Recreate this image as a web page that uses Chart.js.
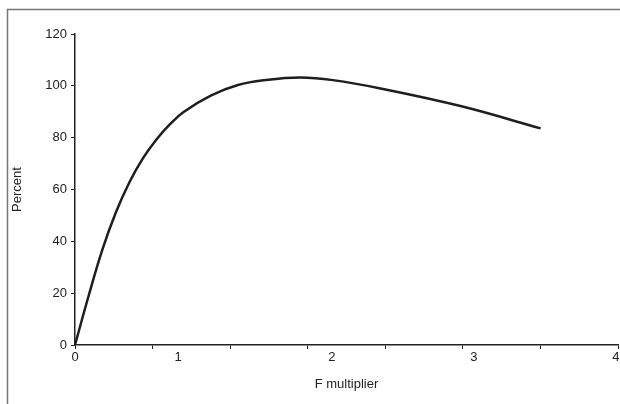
<!DOCTYPE html>
<html lang="en">

<head>
    <meta charset="UTF-8">
    <title>F multiplier curve</title>
    <script src="https://cdn.jsdelivr.net/npm/chart.js"></script>
    <style>
        html, body { margin: 0; padding: 0; background: #fff; }
        #wrap { width: 620px; height: 404px; }
    </style>
</head>

<body>
    <div id="wrap"><canvas id="lineChart"></canvas></div>
    <script>
        // curve data (x in axis units, 0..4 spread evenly over the axis)
        const fMult = [0, 0.1, 0.2, 0.3, 0.4, 0.5, 0.6, 0.7, 0.8, 1.0, 1.2, 1.4, 1.66, 1.9, 2.25, 2.84, 3.43];
        const percent = [0, 18.9, 36.5, 51.0, 62.7, 72.0, 79.3, 85.2, 89.9, 96.2, 100.3, 102.2, 103.2, 102.2, 99.0, 92.2, 83.6];

        // tick marks on x axis (7 even steps) and where the labels sit
        const xMarks = [0, 4 / 7, 8 / 7, 12 / 7, 16 / 7, 20 / 7, 24 / 7, 4];
        const xLabelPos = [0, 0.759, 1.893, 2.939, 3.985];
        const xLabels = ['0', '1', '2', '3', '4'];

        const points = fMult.map((x, i) => ({ x: x, y: percent[i] }));

        // outer frame like the original picture
        const framePlugin = {
            id: 'frame',
            beforeDraw(chart) {
                const c = chart.ctx;
                c.save();
                c.strokeStyle = '#777';
                c.lineWidth = 1.5;
                c.beginPath();
                c.moveTo(7.5, 404);
                c.lineTo(7.5, 9.5);
                c.lineTo(620, 9.5);
                c.stroke();
                c.restore();
            }
        };

        const font = { family: 'Liberation Sans, Arial, sans-serif', size: 13 };

        const ctx = document.getElementById('lineChart').getContext('2d');
        new Chart(ctx, {
            type: 'scatter',
            data: {
                datasets: [{
                    data: points,
                    showLine: true,
                    borderColor: '#1e1e1e',
                    borderWidth: 2.5,
                    pointRadius: 0,
                    tension: 0.4
                }]
            },
            options: {
                responsive: true,
                maintainAspectRatio: false,
                animation: false,
                layout: { padding: { top: 34, right: 2, left: 0, bottom: 0 } },
                plugins: { legend: { display: false }, tooltip: { enabled: false } },
                scales: {
                    x: {
                        type: 'linear',
                        min: 0,
                        max: 4,
                        afterBuildTicks(scale) {
                            const vals = [...new Set(xMarks.concat(xLabelPos))].sort((a, b) => a - b);
                            scale.ticks = vals.map(v => ({ value: v }));
                        },
                        afterFit(scale) { scale.height = 59; },
                        ticks: {
                            autoSkip: false,
                            maxRotation: 0,
                            padding: 1,
                            color: '#222',
                            font: font,
                            callback(value) {
                                const k = xLabelPos.indexOf(value);
                                return k >= 0 ? xLabels[k] : '';
                            }
                        },
                        grid: {
                            drawOnChartArea: false,
                            tickLength: 4,
                            color: (c) => (c.tick && xMarks.includes(c.tick.value)) ? '#222' : 'rgba(0,0,0,0)'
                        },
                        border: { display: true, color: '#222', width: 1.5 },
                        title: {
                            display: true,
                            text: 'F multiplier',
                            color: '#222',
                            font: font,
                            padding: { top: 0, bottom: 12 }
                        }
                    },
                    y: {
                        min: 0,
                        max: 120,
                        afterFit(scale) { scale.width = 75; },
                        ticks: { stepSize: 20, padding: 4, color: '#222', font: font },
                        grid: { drawOnChartArea: false, tickLength: 4, color: '#222' },
                        border: { display: true, color: '#222', width: 1.5 },
                        title: {
                            display: true,
                            text: 'Percent',
                            color: '#222',
                            font: font,
                            padding: { top: 10, bottom: 0 }
                        }
                    }
                }
            },
            plugins: [framePlugin]
        });
    </script>
</body>

</html>
